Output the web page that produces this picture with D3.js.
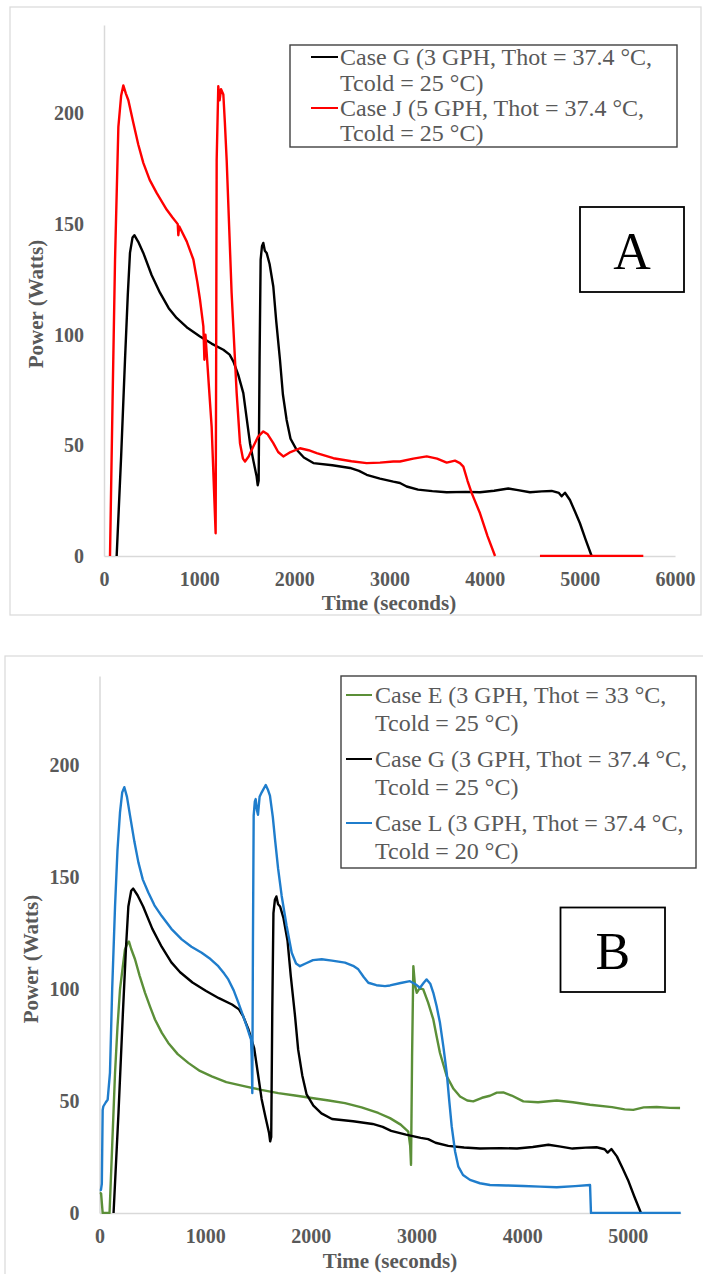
<!DOCTYPE html>
<html>
<head>
<meta charset="utf-8">
<script src="https://cdn.jsdelivr.net/npm/d3@7"></script>
<style>
  body { margin: 0; background: #fff; }
  svg { display: block; }
  .tick-label { font-family: "Times New Roman", "Liberation Serif", serif; font-weight: bold; font-size: 20px; fill: #595959; }
  .axis-title { font-family: "Times New Roman", "Liberation Serif", serif; font-weight: bold; font-size: 21px; fill: #595959; }
  .legend-text { font-family: "Times New Roman", "Liberation Serif", serif; font-size: 24px; fill: #595959; }
  .panel-letter { font-family: "Times New Roman", "Liberation Serif", serif; font-size: 52px; fill: #000; }
</style>
</head>
<body>
<svg id="chart" width="703" height="1274"></svg>
<script>
// Series: [time (s), power (W)]
const caseG = [
  [133, 0], [180, 45], [221, 89], [250, 118], [273, 137], [300, 144], [319, 145],
  [360, 142], [413, 137], [500, 127], [588, 119], [680, 112], [763, 107.6],
  [880, 103], [1009, 99.2], [1130, 96], [1254, 93.2], [1320, 91], [1359, 88],
  [1410, 82], [1464, 73.6], [1500, 62], [1534, 51], [1570, 43], [1604, 35.9],
  [1615, 32], [1625, 34], [1635, 90], [1646, 134], [1660, 140], [1674, 141.5],
  [1690, 138], [1709, 137], [1740, 132], [1779, 121.8], [1810, 106], [1849, 88.7],
  [1880, 73], [1919, 61.5], [1960, 53], [2024, 48], [2100, 44.5], [2200, 42],
  [2400, 41], [2585, 39.8], [2680, 38.5], [2760, 36.7], [2900, 35], [3040, 33.6],
  [3110, 33], [3180, 31.4], [3300, 30], [3450, 29.3], [3601, 28.8], [3800, 29],
  [3951, 28.8], [4100, 29.5], [4248, 30.5], [4350, 29.8], [4476, 28.8], [4600, 29.2],
  [4704, 29.4], [4780, 28.5], [4809, 27], [4844, 28.6], [4896, 25.3], [4950, 20],
  [5001, 14.8], [5060, 7.5], [5124, 0]
];

const caseJ = [
  [63, 0], [90, 70], [116, 134], [151, 194], [180, 208], [203, 212.7], [230, 209],
  [256, 206], [308, 195.8], [360, 186], [413, 177.7], [480, 170], [553, 164.1],
  [658, 156.6], [720, 153], [775, 150], [781, 145], [790, 149], [869, 142.2],
  [939, 134], [980, 124], [1009, 115.8], [1044, 103.8], [1055, 88.7], [1066, 100],
  [1079, 91.7], [1105, 75], [1131, 58.5], [1156, 29.9], [1173, 10.3], [1178, 80],
  [1184, 179], [1201, 212.3], [1215, 206], [1230, 211], [1254, 208.6], [1270, 196],
  [1289, 179], [1341, 118.9], [1394, 73.6], [1429, 51], [1460, 44], [1482, 42.7],
  [1520, 45], [1569, 49.5], [1620, 54], [1674, 56.3], [1720, 55], [1779, 51],
  [1830, 47], [1884, 45], [1960, 47], [2059, 48.7], [2150, 47.8], [2235, 46.5],
  [2410, 44.2], [2600, 42.8], [2760, 42], [2900, 42.2], [3040, 42.7], [3110, 42.7],
  [3250, 44], [3391, 45], [3500, 44], [3601, 42.2], [3688, 43.1], [3740, 42],
  [3776, 40.4], [3820, 34], [3864, 28.4], [3951, 19.3], [4030, 9], [4109, 0],
  [4110, null], [4580, null], [4581, 0], [5667, 0]
];

const caseE = [
  [0, 9], [15, 8.8], [30, 0], [95, 0], [120, 30], [147, 62.6], [170, 83],
  [194, 99.9], [220, 110], [241, 117.8], [265, 120.5], [279, 121.3], [300, 118],
  [336, 113.4], [380, 106], [431, 98.4], [480, 92], [525, 86.5], [590, 80.5],
  [651, 76], [740, 71], [840, 67.1], [950, 63.5], [1062, 61.1], [1200, 58.5],
  [1377, 56.6], [1530, 55], [1692, 53.6], [1850, 52.5], [2008, 51.4], [2170, 50.3],
  [2323, 49.1], [2480, 47.2], [2638, 44.7], [2749, 42.4], [2850, 39.5], [2922, 36.4],
  [2940, 30], [2948, 21.5], [2958, 70], [2970, 110.3], [2985, 102], [3002, 98.4],
  [3030, 100.5], [3064, 99.9], [3110, 94], [3159, 86.5], [3190, 79], [3222, 71.5],
  [3286, 61.1], [3350, 55.5], [3412, 52.1], [3480, 50.3], [3537, 49.9], [3620, 51.5],
  [3695, 52.4], [3760, 53.8], [3821, 53.9], [3900, 52.5], [4011, 49.9], [4150, 49.5],
  [4327, 50.3], [4480, 49.5], [4642, 48.4], [4850, 47.3], [4970, 46.3], [5051, 46.1],
  [5150, 47.2], [5273, 47.4], [5400, 47], [5494, 46.9]
];

const caseL = [
  [0, 10.3], [14, 10.3], [22, 13], [30, 46], [36, 47.6], [60, 49.5], [77, 50.6],
  [99, 62.6], [120, 100], [147, 137], [170, 162], [194, 179], [215, 188],
  [235, 190.3], [260, 186], [289, 177.6], [330, 166], [368, 156.7], [410, 149],
  [462, 143.2], [520, 137.5], [589, 132.7], [680, 127], [778, 122.3], [870, 119],
  [967, 116.3], [1050, 113.5], [1124, 110.3], [1180, 107], [1219, 104.4], [1270, 99.5],
  [1314, 94], [1360, 88], [1393, 83.5], [1420, 79.5], [1434, 77.5], [1440, 70],
  [1446, 53.6], [1452, 120], [1459, 177.6], [1470, 184], [1478, 185], [1490, 180],
  [1500, 178], [1515, 186], [1535, 188], [1573, 191.3], [1595, 189], [1613, 186.5],
  [1640, 177], [1661, 167], [1690, 154], [1724, 141.7], [1771, 128.3], [1819, 116.3],
  [1860, 111.5], [1897, 110.3], [1950, 111.5], [2020, 113], [2103, 113.4],
  [2200, 112.8], [2323, 111.9], [2400, 110.5], [2449, 108.9], [2500, 105.5],
  [2544, 102.9], [2620, 101.8], [2702, 101.4], [2749, 101.7], [2850, 102.8],
  [2938, 103.6], [2990, 102.2], [3033, 100.7], [3070, 103], [3096, 104.4],
  [3130, 102.5], [3159, 98.4], [3190, 92.5], [3222, 85], [3255, 74], [3286, 62.6],
  [3310, 50], [3333, 38.7], [3365, 27.5], [3396, 20.7], [3440, 17], [3506, 14.8],
  [3600, 13.3], [3695, 12.5], [3850, 12.3], [4011, 12.1], [4170, 11.8], [4327, 11.5],
  [4500, 12], [4642, 12.5], [4651, 0], [5500, 0]
];

const legendA = ["Case G (3 GPH, Thot = 37.4 °C,", "Tcold = 25 °C)", "Case J (5 GPH, Thot = 37.4 °C,", "Tcold = 25 °C)"];
const legendB = ["Case E (3 GPH, Thot = 33 °C,", "Tcold = 25 °C)", "Case G (3 GPH, Thot = 37.4 °C,", "Tcold = 25 °C)", "Case L (3 GPH, Thot = 37.4 °C,", "Tcold = 20 °C)"];

const yTicks = [0, 50, 100, 150, 200];
const xTicksA = [0, 1000, 2000, 3000, 4000, 5000, 6000];
const xTicksB = [0, 1000, 2000, 3000, 4000, 5000];

const colors = { G: "#000000", J: "#ff0000", E: "#5b8f38", L: "#1f7dcc" };

const svg = d3.select("#chart");

function drawPanel(cfg) {
  const g = svg.append("g");

  // light outer frame
  g.append("rect")
    .attr("x", cfg.frame[0]).attr("y", cfg.frame[1])
    .attr("width", cfg.frame[2]).attr("height", cfg.frame[3])
    .attr("fill", "none").attr("stroke", "#d9d9d9").attr("stroke-width", 1.2);

  const x = d3.scaleLinear().domain(cfg.xDomain).range([cfg.left, cfg.right]);
  const y = d3.scaleLinear().domain([0, 240]).range([cfg.bottom, cfg.top]);

  // axes (no tick marks, light grey lines)
  const xAxis = g.append("g").attr("transform", `translate(0,${cfg.bottom})`)
    .call(d3.axisBottom(x).tickValues(cfg.xTicks).tickFormat(d3.format("d")).tickSize(0).tickPadding(16));
  xAxis.select(".domain").attr("stroke", "#d9d9d9").attr("stroke-width", 1.5);
  xAxis.selectAll("text").attr("class", "tick-label").attr("fill", null).attr("dy", "0.71em");

  const yAxis = g.append("g").attr("transform", `translate(${cfg.left},0)`)
    .call(d3.axisLeft(y).tickValues(yTicks).tickFormat(d3.format("d")).tickSize(0).tickPadding(20));
  yAxis.select(".domain").attr("stroke", "#d9d9d9").attr("stroke-width", 1.5);
  yAxis.selectAll("text").attr("class", "tick-label").attr("fill", null);
  xAxis.attr("font-size", null).attr("font-family", null);
  yAxis.attr("font-size", null).attr("font-family", null);

  // axis titles
  g.append("text").attr("class", "axis-title")
    .attr("transform", `translate(${cfg.yTitle[0]},${cfg.yTitle[1]}) rotate(-90)`)
    .attr("text-anchor", "middle").attr("dominant-baseline", "central")
    .text("Power (Watts)");
  g.append("text").attr("class", "axis-title")
    .attr("x", cfg.xTitle[0]).attr("y", cfg.xTitle[1])
    .attr("text-anchor", "middle").attr("dominant-baseline", "central")
    .text("Time (seconds)");

  // series
  const clipId = "clip" + cfg.id;
  g.append("clipPath").attr("id", clipId).append("rect")
    .attr("x", cfg.left).attr("y", cfg.top - 2)
    .attr("width", cfg.right - cfg.left + 2).attr("height", cfg.bottom - cfg.top + 3);

  const line = d3.line()
    .defined(d => d[1] !== null)
    .x(d => x(d[0])).y(d => y(d[1]));

  cfg.series.forEach(s => {
    g.append("path")
      .datum(s.data)
      .attr("clip-path", `url(#${clipId})`)
      .attr("fill", "none")
      .attr("stroke", s.color)
      .attr("stroke-width", 2.4)
      .attr("stroke-linejoin", "round")
      .attr("d", line);
  });

  // legend
  const lg = cfg.legend;
  g.append("rect")
    .attr("x", lg.box[0]).attr("y", lg.box[1]).attr("width", lg.box[2]).attr("height", lg.box[3])
    .attr("fill", "#fff").attr("stroke", "#404040").attr("stroke-width", 1.4);
  lg.lines.forEach((t, i) => {
    g.append("text").attr("class", "legend-text")
      .attr("x", lg.textX).attr("y", lg.rows[i])
      .attr("dominant-baseline", "central")
      .text(t);
  });
  lg.swatches.forEach((c, i) => {
    g.append("line")
      .attr("x1", lg.swatchX[0]).attr("x2", lg.swatchX[1])
      .attr("y1", lg.rows[i * 2]).attr("y2", lg.rows[i * 2])
      .attr("stroke", c).attr("stroke-width", 2);
  });

  // panel letter
  const b = cfg.letterBox;
  g.append("rect")
    .attr("x", b[0]).attr("y", b[1]).attr("width", b[2]).attr("height", b[3])
    .attr("fill", "#fff").attr("stroke", "#000").attr("stroke-width", 1.8);
  g.append("text").attr("class", "panel-letter")
    .attr("x", b[0] + b[2] / 2).attr("y", b[1] + b[3] / 2 + 2)
    .attr("text-anchor", "middle").attr("dominant-baseline", "central")
    .text(cfg.letter);
}

drawPanel({
  id: "A",
  frame: [10, 7, 691, 608],
  left: 104, right: 675, top: 25, bottom: 556,
  xDomain: [0, 6000], xTicks: xTicksA,
  yTitle: [36, 304], xTitle: [389, 603],
  series: [
    { data: caseG, color: colors.G },
    { data: caseJ, color: colors.J }
  ],
  legend: {
    box: [290, 45, 387, 102],
    lines: legendA,
    rows: [57, 83, 108, 133],
    textX: 340,
    swatchX: [311, 338],
    swatches: [colors.G, colors.J]
  },
  letterBox: [580, 207, 104, 85],
  letter: "A"
});

drawPanel({
  id: "B",
  frame: [5, 656, 710, 640],
  left: 99.5, right: 680.7, top: 676, bottom: 1213,
  xDomain: [0, 5500], xTicks: xTicksB,
  yTitle: [31, 959], xTitle: [390, 1261],
  series: [
    { data: caseE, color: colors.E },
    { data: caseG, color: colors.G },
    { data: caseL, color: colors.L }
  ],
  legend: {
    box: [341, 676, 355, 192],
    lines: legendB,
    rows: [695, 723, 759, 787, 823, 851],
    textX: 375,
    swatchX: [346, 372],
    swatches: [colors.E, colors.G, colors.L]
  },
  letterBox: [560.5, 907.5, 104.5, 84.5],
  letter: "B"
});
</script>
</body>
</html>
